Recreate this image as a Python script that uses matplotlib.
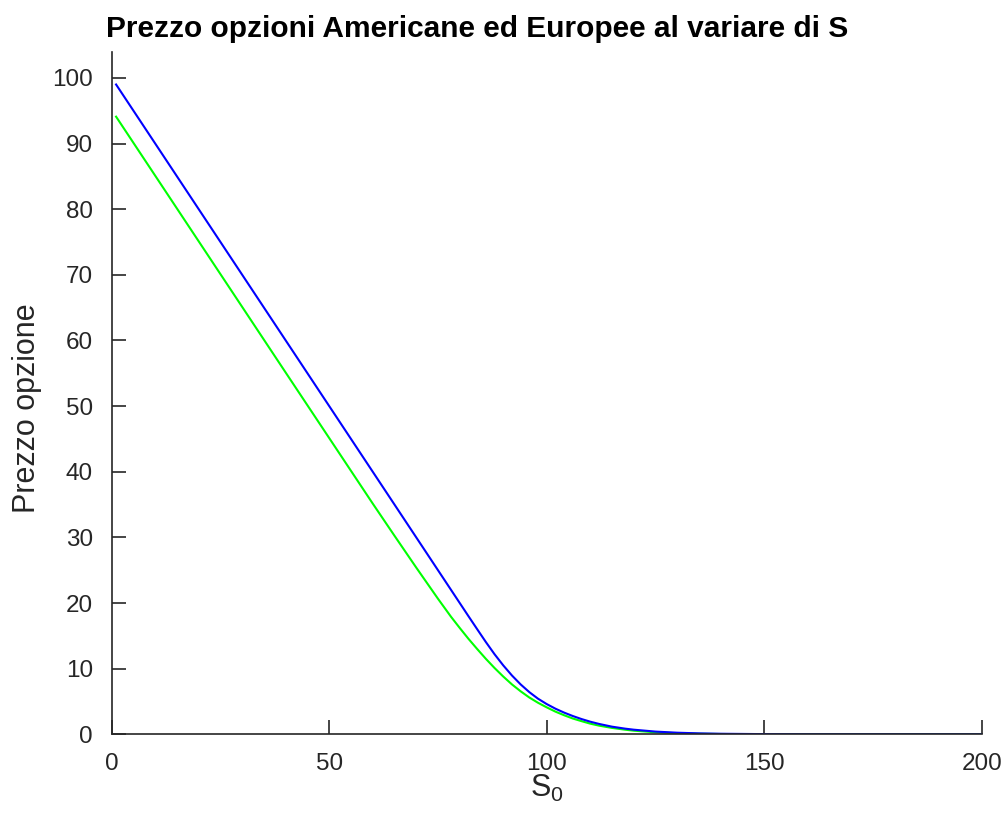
import numpy as np
import matplotlib.pyplot as plt

plt.rcParams['font.family'] = ['Liberation Sans', 'DejaVu Sans']
plt.rcParams['mathtext.fontset'] = 'custom'
plt.rcParams['mathtext.rm'] = 'Liberation Sans'
plt.rcParams['mathtext.it'] = 'Liberation Sans'

# Underlying price S0 and option prices (American = blue, European = green)
s0 = [1, 20, 40, 60, 65, 70, 75, 78, 80, 82, 84, 86, 88, 90, 92, 94, 96,
      98, 100, 102, 104, 106, 108, 110, 112, 115, 118, 120, 125, 130, 135,
      140, 150, 160, 200]
american = [99.0, 80.0, 60.0, 40.0, 35.0, 30.0, 25.0, 22.0, 20.0, 18.0,
            16.02, 14.06, 12.2, 10.5, 8.96, 7.6, 6.42, 5.42, 4.6, 3.9,
            3.3, 2.78, 2.32, 1.92, 1.58, 1.16, 0.86, 0.7, 0.41, 0.24, 0.14,
            0.08, 0.025, 0.005, 0.0]
european = [94.1, 75.1, 55.1, 35.15, 30.25, 25.4, 20.65, 17.9, 16.2, 14.55,
            13.0, 11.5, 10.1, 8.8, 7.6, 6.55, 5.6, 4.8, 4.1, 3.45, 2.9,
            2.4, 2.0, 1.62, 1.32, 0.97, 0.7, 0.55, 0.3, 0.16, 0.08, 0.04,
            0.01, 0.0, 0.0]

fig = plt.figure(figsize=(10.03, 8.23), dpi=100)
ax = fig.add_axes([0.1114, 0.1078, 0.8674, 0.8294])

ax.plot(s0, european, color=(0, 1, 0), lw=1.5)
ax.plot(s0, american, color=(0, 0, 1), lw=1.5)

ax.set_xlim(0, 200)
ax.set_ylim(0, 104)
ax.set_xticks([0, 50, 100, 150, 200])
ax.set_yticks(np.arange(0, 101, 10))

for side in ['top', 'right']:
    ax.spines[side].set_visible(False)
for side in ['left', 'bottom']:
    ax.spines[side].set_color('#262626')
    ax.spines[side].set_linewidth(1.2)
ax.tick_params(direction='in', length=10, width=1.2, color='#262626',
               labelcolor='#262626', labelsize=17.5, pad=13.5)

ax.set_ylabel('Prezzo opzione', fontsize=22, color='#262626')
ax.yaxis.set_label_coords(-0.080, 0.478)
ax.set_xlabel(r'$\mathrm{S_0}$', fontsize=22, color='#262626')
ax.xaxis.set_label_coords(0.5, -0.056)
fig.text(106 / 1003, 1 - 37 / 823, 'Prezzo opzioni Americane ed Europee al variare di S',
         fontsize=21.5, fontweight='bold', ha='left', va='baseline')

fig.savefig('out.png', dpi=100)
